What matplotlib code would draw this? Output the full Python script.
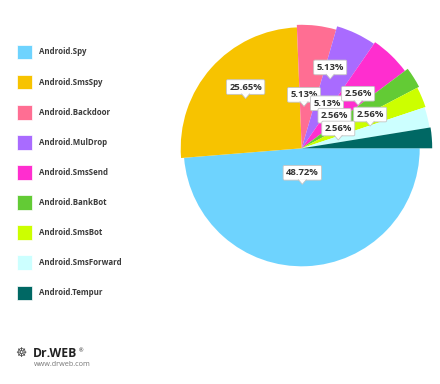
import numpy as np
import matplotlib.pyplot as plt
from matplotlib.patches import Rectangle, Polygon

families = ['Android.Spy', 'Android.SmsSpy', 'Android.Backdoor', 'Android.MulDrop',
            'Android.SmsSend', 'Android.BankBot', 'Android.SmsBot',
            'Android.SmsForward', 'Android.Tempur']
shares = [48.72, 25.65, 5.13, 5.13, 5.13, 2.56, 2.56, 2.56, 2.56]
colors = ['#6ED3FE', '#F7C300', '#FF6E93', '#A96BFF', '#FF2ECF',
          '#63CB35', '#CCFF00', '#CCFFFF', '#006864']

# styling: slice radius (px), label distance from centre (px), label angle nudge (deg)
slice_radius = [118, 121, 123.5, 127, 129, 132.5, 130.5, 129.5, 130.5]
label_dist = [36, 75, 42, 75, 42, 71, 39, 72, 37.5]
label_turn = [-1.3, 0, 3.8, 3.1, 6.9, 5.1, 9.7, 4.2, 8.2]

W, H = 440, 384
cx, cy = 301.7, H - 148.3
plt.rcParams['font.family'] = ['Open Sans', 'DejaVu Sans']

fig = plt.figure(figsize=(4.4, 3.84), dpi=100)
ax = fig.add_axes([0, 0, 1, 1])
wedges, _ = ax.pie(shares, colors=colors, startangle=0, counterclock=False,
                   center=(cx, cy), radius=100, wedgeprops=dict(linewidth=0))
for w, r in zip(wedges, slice_radius):
    w.set_radius(r)

# data labels with callout boxes
for i, (w, v) in enumerate(zip(wedges, shares)):
    a = np.radians((w.theta1 + w.theta2) / 2 + label_turn[i])
    tx = cx + label_dist[i] * np.cos(a)
    ty = cy + label_dist[i] * np.sin(a)
    z = 10 + 3 * i
    ax.text(tx, ty + 11.5, f'{v:.2f}%', ha='center', va='center', fontsize=6.8,
            fontweight='bold', color='#333333', zorder=z,
            bbox=dict(boxstyle='round,pad=0.3,rounding_size=0.15', fc='white',
                      ec='#c4c4c4', lw=0.6))
    ax.add_patch(Polygon([(tx - 4, ty + 5.0), (tx + 4, ty + 5.0), (tx, ty)],
                         closed=True, fc='white', ec='none', zorder=z + 1))
    ax.plot([tx - 4, tx, tx + 4], [ty + 4.6, ty, ty + 4.6], color='#c4c4c4',
            lw=0.6, zorder=z + 2)

# legend
for i, (name, c) in enumerate(zip(families, colors)):
    y = H - (52 + 30.1 * i)
    ax.add_patch(Rectangle((17.3, y - 7.3), 15, 14.6, fc=c, ec='white', lw=0.5))
    ax.text(39, y, name, va='center', ha='left', fontsize=5.7,
            fontweight='bold', color='#3a3a3a')

# logo
ax.text(21, H - 353.5, '\u2638', fontsize=9, color='#444444', ha='center',
        va='center', family='DejaVu Sans')
ax.text(32.5, H - 353.5, 'Dr.WEB', fontsize=8.7, fontweight='bold', color='#222222',
        va='center', ha='left')
ax.text(78.5, H - 350.5, '\u00ae', fontsize=4, color='#222222', va='center', ha='left')
ax.text(34, H - 365, 'www.drweb.com', fontsize=5.2, color='#777777',
        va='center', ha='left')

ax.set_xlim(0, W)
ax.set_ylim(0, H)
ax.set_aspect('equal')
ax.axis('off')
fig.savefig('out.png', dpi=100, facecolor='white')
